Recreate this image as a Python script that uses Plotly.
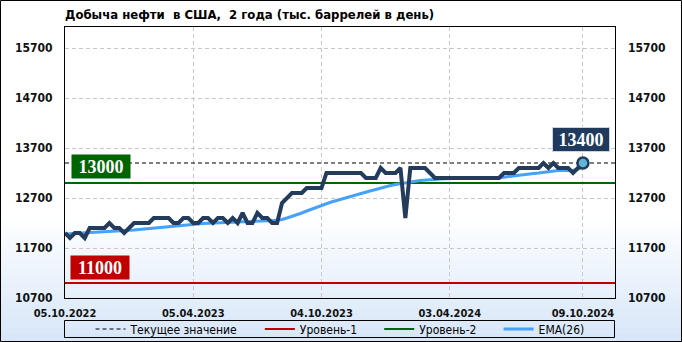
import plotly.graph_objects as go

title_text = "Добыча нефти  в США,  2 года (тыс. баррелей в день)"

# weekly observations 05.10.2022 .. 09.10.2024 (106 weeks)
production = [
    12000, 11900, 12000, 12000, 11900, 12100, 12100, 12100, 12100, 12200,
    12100, 12100, 12000, 12100, 12200, 12200, 12200, 12200, 12300, 12300,
    12300, 12300, 12200, 12200, 12300, 12300, 12200, 12200, 12300, 12300,
    12200, 12300, 12300, 12200, 12300, 12200, 12400, 12200, 12200, 12400,
    12300, 12300, 12200, 12200, 12600, 12700, 12800, 12800, 12800, 12900,
    12900, 12900, 12900, 13200, 13200, 13200, 13200, 13200, 13200, 13200,
    13200, 13100, 13100, 13100, 13300, 13200, 13200, 13200, 13300, 12300,
    13300, 13300, 13300, 13300, 13200, 13100, 13100, 13100, 13100, 13100,
    13100, 13100, 13100, 13100, 13100, 13100, 13100, 13100, 13100, 13200,
    13200, 13200, 13300, 13300, 13300, 13300, 13300, 13400, 13300, 13400,
    13300, 13300, 13300, 13200, 13300, 13400,
]

ema26 = [
    11980, 11985, 11990, 11995, 11995, 12000, 12005, 12010, 12015, 12025,
    12030, 12035, 12040, 12050, 12060, 12070, 12080, 12090, 12100, 12105,
    12110, 12120, 12130, 12140, 12150, 12165, 12180, 12185, 12190, 12195,
    12200, 12205, 12210, 12210, 12215, 12220, 12225, 12230, 12230, 12235,
    12240, 12245, 12245, 12250, 12270, 12300, 12330, 12360, 12400, 12440,
    12480, 12515, 12550, 12585, 12620, 12650, 12680, 12710, 12740, 12770,
    12800, 12820, 12845, 12870, 12900, 12925, 12950, 12970, 12990, 13000,
    13020, 13035, 13050, 13060, 13070, 13080, 13082, 13084, 13086, 13088,
    13090, 13090, 13092, 13094, 13095, 13096, 13097, 13098, 13100, 13115,
    13130, 13145, 13160, 13170, 13180, 13190, 13200, 13215, 13225, 13240,
    13250, 13250, 13250, 13250, 13280, 13320,
]

level1 = 11000
level2 = 13000
current = production[-1]

x_tick_pos = [0, 26, 52, 78, 105]
x_tick_labels = ["05.10.2022", "05.04.2023", "04.10.2023", "03.04.2024", "09.10.2024"]
y_ticks = [10700, 11700, 12700, 13700, 14700, 15700]
y_tick_labels = ["10700", "11700", "12700", "13700", "14700", "15700"]

legend_names = ["Текущее значение", "Уровень-1", "Уровень-2", "EMA(26)"]

idx = list(range(len(production)))
x_range = [0, 111.5]
y_range = [10700, 16120]

C_NAVY = "#243c5c"
C_EMA = "#45a2f8"
C_GREEN = "#006600"
C_RED = "#c00000"
FAM = "DejaVu Sans Condensed, DejaVu Sans"
TICK_FONT = dict(family=FAM, size=12, color="#111111", weight="bold")

fig = go.Figure()

NB = "\u00a0"
fig.add_trace(go.Scatter(x=x_range, y=[current, current], mode="lines",
                         line=dict(color="black", width=1, dash="4px,3px"),
                         name=legend_names[0] + NB * 5, hoverinfo="skip"))
fig.add_trace(go.Scatter(x=x_range, y=[level1, level1], mode="lines",
                         line=dict(color=C_RED, width=2), name=legend_names[1] + NB * 5, hoverinfo="skip"))
fig.add_trace(go.Scatter(x=x_range, y=[level2, level2], mode="lines",
                         line=dict(color=C_GREEN, width=2), name=legend_names[2] + NB * 5, hoverinfo="skip"))
fig.add_trace(go.Scatter(x=idx, y=ema26, mode="lines",
                         line=dict(color=C_EMA, width=3), name=legend_names[3]))
fig.add_trace(go.Scatter(x=idx, y=production, mode="lines",
                         line=dict(color=C_NAVY, width=4), name="Добыча", showlegend=False))
fig.add_trace(go.Scatter(x=[idx[-1]], y=[production[-1]], mode="markers",
                         marker=dict(size=11, color="#62b5d6", line=dict(color=C_NAVY, width=2.5)),
                         showlegend=False, hoverinfo="skip"))
# invisible trace to activate right axis labels
fig.add_trace(go.Scatter(x=[0], y=[y_range[0]], yaxis="y2", mode="markers",
                         marker=dict(opacity=0), showlegend=False, hoverinfo="skip"))

# gradient background (paper coords, plot area 65..615 x 27..298 px)
W, H = 682, 342
L, R, T, B = 65, 615, 27, 298
pw, ph = R - L, B - T
def px2x(px):
    return (px - L) / pw
def px2y(py):
    return (B - py) / ph

shapes = []
g0, g1 = 215, 342
n = 26
top_c = (255, 255, 255)
bot_c = (214, 230, 248)
for k in range(n):
    y_a = g0 + (g1 - g0) * k / n
    y_b = g0 + (g1 - g0) * (k + 1) / n
    t = (k + 0.5) / n
    c = tuple(int(round(top_c[j] + (bot_c[j] - top_c[j]) * t)) for j in range(3))
    shapes.append(dict(type="rect", xref="paper", yref="paper", layer="below",
                       x0=px2x(0), x1=px2x(W), y0=px2y(y_b + 0.5), y1=px2y(y_a),
                       fillcolor="rgb(%d,%d,%d)" % c, line=dict(width=0)))
# legend frame
shapes.append(dict(type="rect", xref="paper", yref="paper", layer="above",
                   x0=px2x(64.5), x1=px2x(614.5), y0=px2y(337.5), y1=px2y(320.5),
                   line=dict(color="black", width=1), fillcolor="rgba(0,0,0,0)"))
# outer frame
shapes.append(dict(type="rect", xref="paper", yref="paper", layer="above",
                   x0=px2x(0.5), x1=px2x(W - 0.5), y0=px2y(H - 0.5), y1=px2y(0.5),
                   line=dict(color="black", width=1), fillcolor="rgba(0,0,0,0)"))

label_font = dict(family="Liberation Serif, Times New Roman, serif", size=18, color="white", weight="bold")
annotations = [
    dict(text="13000", xref="paper", yref="y", x=px2x(101), y=13340, showarrow=False,
         bgcolor="#006400", font=label_font, width=56, height=21, xanchor="center", yanchor="middle"),
    dict(text="11000", xref="paper", yref="y", x=px2x(99.5), y=11320, showarrow=False,
         bgcolor="#c00000", font=label_font, width=56, height=21, xanchor="center", yanchor="middle"),
    dict(text="13400", xref="paper", yref="y", x=px2x(581), y=13880, showarrow=False,
         bgcolor="#1f3a5c", bordercolor="#c8d4e0", borderwidth=1, font=label_font,
         width=54, height=21, xanchor="center", yanchor="middle"),
]

fig.update_layout(
    width=W, height=H,
    margin=dict(l=L, r=W - R, t=T, b=H - B, pad=0, autoexpand=False),
    paper_bgcolor="white",
    plot_bgcolor="rgba(0,0,0,0)",
    title=dict(text=title_text, x=L / W, xref="container", xanchor="left",
               y=1 - 14 / H, yref="container", yanchor="middle",
               font=dict(family=FAM, size=13, color="black", weight="bold")),
    shapes=shapes,
    annotations=annotations,
    showlegend=True,
    legend=dict(orientation="h", x=0.5, xanchor="center", y=px2y(329), yanchor="middle",
                borderwidth=0, bgcolor="rgba(0,0,0,0)",
                font=dict(family=FAM, size=12, color="black"),
                itemwidth=30, tracegroupgap=0),
    xaxis=dict(range=x_range, tickvals=x_tick_pos, ticktext=x_tick_labels,
               showgrid=True, gridcolor="#c8c8c8", griddash="4px,3px", gridwidth=1,
               showline=True, linecolor="black", linewidth=1, mirror=True,
               zeroline=False, ticks="", ticklabelstandoff=5,
               tickfont=dict(family=FAM, size=11, color="#111111", weight="bold")),
    yaxis=dict(range=y_range, tickvals=y_ticks, ticktext=y_tick_labels, showgrid=True,
               gridcolor="#c8c8c8", griddash="4px,3px", gridwidth=1, showline=True,
               linecolor="black", linewidth=1, mirror=True, zeroline=False, ticks="",
               ticklabelstandoff=9, tickfont=TICK_FONT),
    yaxis2=dict(range=y_range, tickvals=y_ticks, ticktext=y_tick_labels, overlaying="y",
                side="right", showgrid=False, zeroline=False, showline=False, ticks="",
                ticklabelstandoff=12, tickfont=TICK_FONT),
)

fig.write_html("out.html")
